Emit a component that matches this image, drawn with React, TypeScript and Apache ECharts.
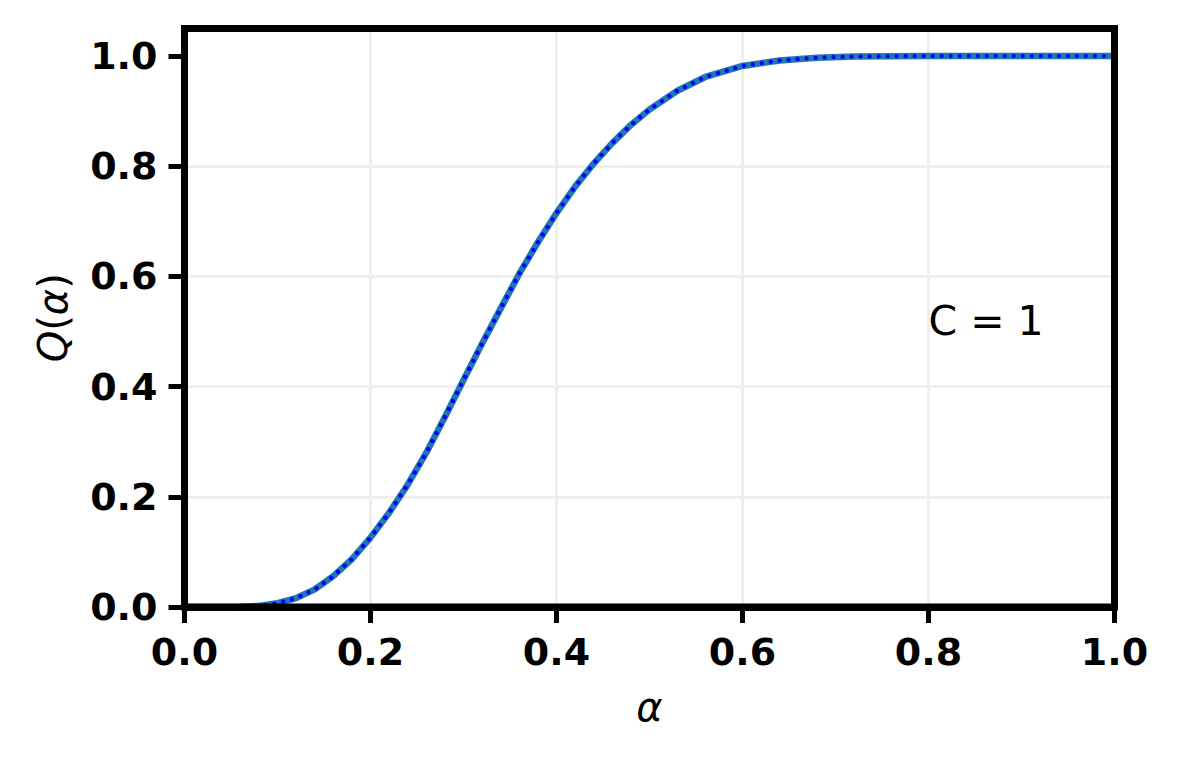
import React, { useEffect, useRef } from "react";
import * as echarts from "echarts";

const alphaValues = [0.0, 0.04, 0.06, 0.08, 0.1, 0.12, 0.14, 0.16, 0.18, 0.2, 0.22, 0.24, 0.26, 0.28, 0.3, 0.32, 0.34, 0.36, 0.38, 0.4, 0.42, 0.44, 0.46, 0.48, 0.5, 0.53, 0.56, 0.6, 0.64, 0.68, 0.72, 0.8, 0.9, 1.0];
const qValues = [0, 0, 0.0005, 0.002, 0.007, 0.016, 0.032, 0.056, 0.087, 0.126, 0.171, 0.222, 0.28, 0.345, 0.412, 0.478, 0.542, 0.605, 0.662, 0.715, 0.763, 0.805, 0.842, 0.875, 0.903, 0.937, 0.962, 0.982, 0.992, 0.997, 0.999, 1.0, 1.0, 1.0];
const xTicks = [0, 0.2, 0.4, 0.6, 0.8, 1.0];
const yTicks = [0, 0.2, 0.4, 0.6, 0.8, 1.0];
const annotationText = "C = 1";
const annotationPos = [0.8, 0.52];

export default function App() {
  const ref = useRef<HTMLDivElement>(null);
  useEffect(() => {
    document.body.style.margin = "0";
    const chart = echarts.init(ref.current!, null, { renderer: "svg" });
    const data = alphaValues.map((a, i) => [a, qValues[i]]);
    const tickFont = { fontFamily: "DejaVu Sans", fontWeight: "bold" as const, fontSize: 38, color: "#000" };
    const gridLine = { show: true, lineStyle: { color: "#efefef", width: 3 } };
    const nameFont = { fontFamily: "DejaVu Sans", fontSize: 40, color: "#000" };
    chart.setOption({
      animation: false,
      backgroundColor: "#fff",
      grid: { left: 184.5, right: 62.5, top: 28.5, bottom: 154, show: false },
      xAxis: {
        type: "value", min: 0, max: 1, interval: 0.2,
        name: "{i|α}", nameLocation: "middle", nameGap: 80,
        nameTextStyle: { ...nameFont, rich: { i: { ...nameFont, fontStyle: "italic" } } },
        axisLine: { show: true, lineStyle: { color: "#000", width: 7 } },
        axisTick: { show: true, length: 16, lineStyle: { color: "#000", width: 5 }, customValues: xTicks },
        axisLabel: { ...tickFont, margin: 26, customValues: xTicks, formatter: (v: number) => v.toFixed(1) },
        splitLine: gridLine,
      },
      yAxis: {
        type: "value", min: 0, max: 1.05, interval: 0.2,
        name: "{i|Q}{n|(}{i|α}{n|)}", nameLocation: "middle", nameGap: 112,
        nameTextStyle: { ...nameFont, rich: { i: { ...nameFont, fontStyle: "italic" }, n: { ...nameFont } } },
        axisLine: { show: true, lineStyle: { color: "#000", width: 7 } },
        axisTick: { show: true, length: 16, lineStyle: { color: "#000", width: 5 }, customValues: yTicks },
        axisLabel: { ...tickFont, margin: 27, customValues: yTicks, formatter: (v: number) => v.toFixed(1) },
        splitLine: { ...gridLine, showMaxLine: false },
      },
      series: [
        { type: "line", data, showSymbol: false, smooth: false, z: 2, lineStyle: { color: "#1f77b4", width: 6.5, join: "round" } },
        { type: "line", data, showSymbol: false, smooth: false, z: 3, lineStyle: { color: "#0000ff", width: 4.3, type: [0.01, 9], cap: "round", join: "round" } },
      ],
    });
    const p = chart.convertToPixel({ gridIndex: 0 }, annotationPos) as number[];
    const tl = chart.convertToPixel({ gridIndex: 0 }, [0, 1.05]) as number[];
    const br = chart.convertToPixel({ gridIndex: 0 }, [1, 0]) as number[];
    chart.setOption({
      graphic: [
        { type: "text", x: p[0], y: p[1], z: 10, style: { text: annotationText, fontFamily: "DejaVu Sans", fontSize: 41, fill: "#000", align: "left", verticalAlign: "middle" } },
        { type: "rect", z: 100, silent: true, shape: { x: tl[0], y: tl[1], width: br[0] - tl[0], height: br[1] - tl[1] }, style: { fill: "none", stroke: "#000", lineWidth: 7 } },
      ],
    });
    return () => chart.dispose();
  }, []);
  return <div ref={ref} style={{ width: 1177, height: 761 }} />;
}
